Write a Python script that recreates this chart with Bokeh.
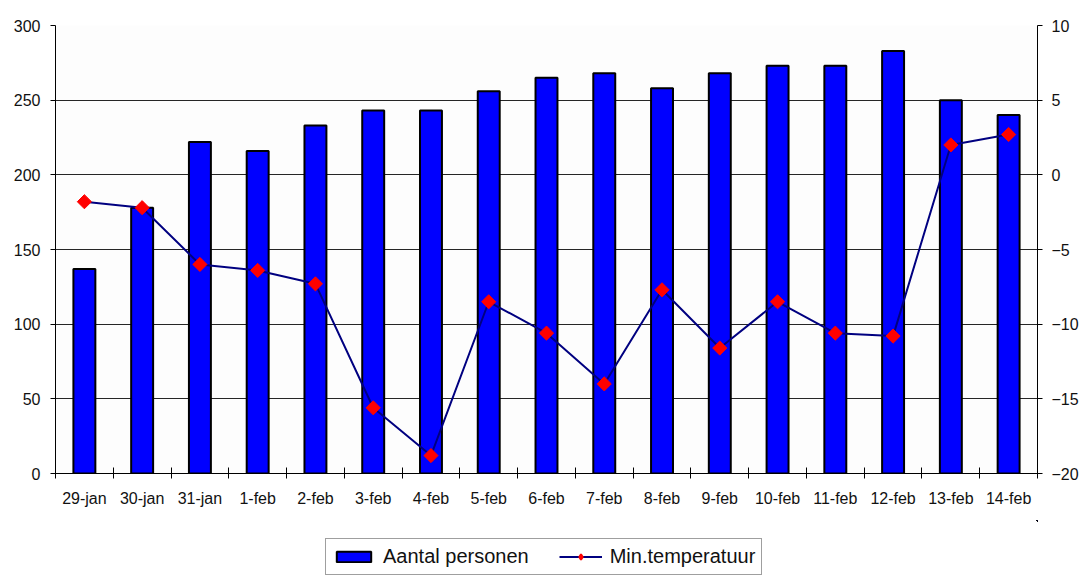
import math
from bokeh.plotting import figure
from bokeh.layouts import column
from bokeh.models import (Range1d, LinearAxis, FixedTicker, Legend, LegendItem,
                          ColumnDataSource)
from bokeh.embed import file_html
from bokeh.resources import INLINE

dates = ["29-jan", "30-jan", "31-jan", "1-feb", "2-feb", "3-feb", "4-feb", "5-feb",
         "6-feb", "7-feb", "8-feb", "9-feb", "10-feb", "11-feb", "12-feb", "13-feb", "14-feb"]
personen = [137, 178, 222, 216, 233, 243, 243, 256, 265, 268, 258, 268, 273, 273, 283, 250, 240]
temperatuur = [-1.8, -2.2, -6.0, -6.4, -7.3, -15.6, -18.8, -8.5, -10.6, -14.0, -7.7,
               -11.6, -8.5, -10.6, -10.8, 2.0, 2.7]
left_ticks = [0, 50, 100, 150, 200, 250, 300]
right_ticks = [-20, -15, -10, -5, 0, 5, 10]
series_names = ["Aantal personen", "Min.temperatuur"]

FONT = "Liberation Sans"
TXT = "#111111"
BAR_STYLE = dict(fill_color="#0000ff", line_color="black", line_width=2)
LINE_STYLE = dict(line_color="#000080", line_width=2)
MARK_STYLE = dict(marker="square", angle=math.pi / 4, size=10,
                  fill_color="#ff0000", line_color="#ff0000")

n = len(dates)
xs = list(range(1, n + 1))
src = ColumnDataSource(dict(x=xs, personen=personen, temp=temperatuur, date=dates))

p = figure(width=1081, height=520, output_backend="svg", toolbar_location=None,
           x_range=Range1d(0.5, n + 0.5), y_range=Range1d(left_ticks[0], left_ticks[-1]),
           min_border_left=55, min_border_right=42, min_border_top=25,
           min_border_bottom=47, background_fill_color="#fdfdfd",
           border_fill_color="white", outline_line_color=None)
p.extra_y_ranges = {"temp": Range1d(right_ticks[0], right_ticks[-1])}

# grid
p.xgrid.visible = False
p.ygrid.ticker = FixedTicker(ticks=left_ticks)
p.ygrid.grid_line_color = "#000000"
p.ygrid.grid_line_alpha = 0.85
p.ygrid.grid_line_width = 1

# x axis: labels at centres, tick marks at category boundaries
xa = p.xaxis[0]
xa.ticker = FixedTicker(ticks=xs, minor_ticks=[i + 0.5 for i in range(0, n + 1)])
xa.major_label_overrides = {i + 1: d for i, d in enumerate(dates)}
xa.major_tick_in = 0
xa.major_tick_out = 0
xa.minor_tick_in = 6
xa.minor_tick_out = 5
xa.minor_tick_line_color = "black"
xa.axis_line_color = "black"
xa.major_label_standoff = 11
xa.major_label_text_font = FONT
xa.major_label_text_font_size = "16px"
xa.major_label_text_color = TXT

# left axis
ya = p.yaxis[0]
ya.ticker = FixedTicker(ticks=left_ticks)
ya.major_tick_in = 0
ya.major_tick_out = 5
ya.minor_tick_line_color = None
ya.axis_line_color = "black"
ya.major_tick_line_color = "black"
ya.major_label_standoff = 10
ya.major_label_text_font = FONT
ya.major_label_text_font_size = "16px"
ya.major_label_text_color = TXT

# right axis
ra = LinearAxis(y_range_name="temp", ticker=FixedTicker(ticks=right_ticks))
ra.major_tick_in = 0
ra.major_tick_out = 5
ra.minor_tick_line_color = None
ra.axis_line_color = "black"
ra.major_tick_line_color = "black"
ra.major_label_standoff = 9
ra.major_label_text_font = FONT
ra.major_label_text_font_size = "16px"
ra.major_label_text_color = TXT
p.add_layout(ra, "right")

p.vbar(x="x", top="personen", bottom=0, width=0.38, source=src, **BAR_STYLE)
p.line("x", "temp", y_range_name="temp", source=src, **LINE_STYLE)
p.scatter("x", "temp", y_range_name="temp", source=src, **MARK_STYLE)

# legend strip below the chart (separate small canvas so it is not clipped);
# its renderers use the same data but lie outside this strip's visible ranges
lg = figure(width=1081, height=55, output_backend="svg", toolbar_location=None,
            x_range=Range1d(-100, -99), y_range=Range1d(-1000, -999),
            x_axis_location=None, y_axis_location=None, min_border=0,
            outline_line_color=None, background_fill_color="white",
            border_fill_color="white")
lg.grid.visible = False
lb = lg.vbar(x="x", top="personen", bottom=0, width=0.38, source=src, **BAR_STYLE)
ll = lg.line("x", "temp", source=src, **LINE_STYLE)
lm = lg.scatter("x", "temp", source=src, marker="diamond", size=14,
                fill_color="#ff0000", line_color="#ff0000", line_width=2)

legend = Legend(items=[LegendItem(label=series_names[0], renderers=[lb]),
                       LegendItem(label=series_names[1], renderers=[ll, lm])],
                orientation="horizontal", location=(270, 0),
                glyph_width=43, glyph_height=13, label_standoff=8, spacing=30,
                padding=6, margin=0,
                label_text_font=FONT, label_text_font_size="20px",
                label_text_color=TXT, border_line_color="#404040",
                border_line_width=1, background_fill_color="white",
                background_fill_alpha=1.0)
lg.add_layout(legend)

open("out.html", "w").write(file_html(column(p, lg, spacing=0), INLINE))
